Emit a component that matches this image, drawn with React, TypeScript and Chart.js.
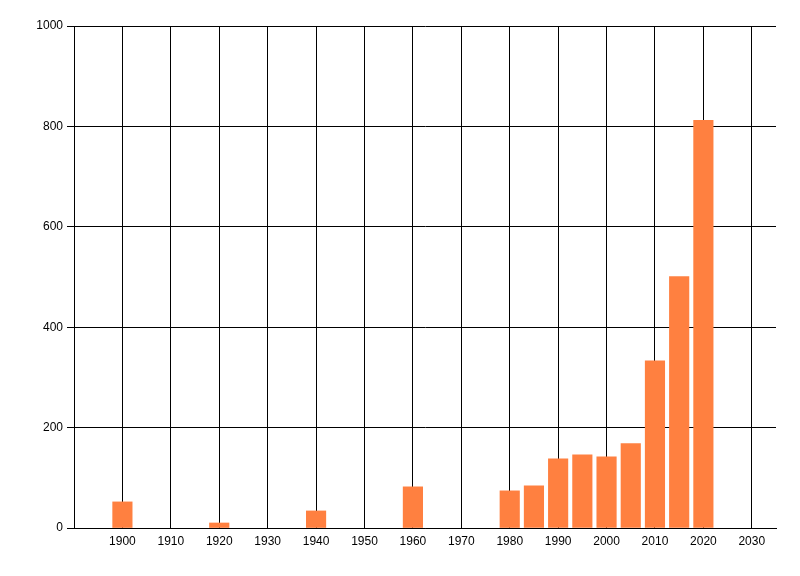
import React, { useEffect, useRef } from "react";
import { Chart, registerables } from "chart.js";

Chart.register(...registerables);

const years = [1900, 1920, 1940, 1960, 1980, 1985, 1990, 1995, 2000, 2005, 2010, 2015, 2020];
const values = [52, 10, 34, 82, 74, 84, 138, 146, 142, 168, 333, 501, 812];
const xTicks = [1900, 1910, 1920, 1930, 1940, 1950, 1960, 1970, 1980, 1990, 2000, 2010, 2020, 2030];
const yTicks = [0, 200, 400, 600, 800, 1000];

export default function App() {
  const ref = useRef<HTMLCanvasElement | null>(null);
  useEffect(() => {
    if (!ref.current) return;
    const chart = new Chart(ref.current, {
      type: "bar",
      data: {
        datasets: [
          {
            data: years.map((y, i) => ({ x: y, y: values[i] })),
            backgroundColor: "rgb(255,128,64)",
            borderWidth: 0,
            barThickness: 19.5,
          },
        ],
      },
      options: {
        animation: false,
        responsive: false,
        maintainAspectRatio: false,
        layout: { padding: { left: 0, right: 24, top: 26, bottom: 0 } },
        plugins: { legend: { display: false }, tooltip: { enabled: false } },
        scales: {
          x: {
            type: "linear",
            min: 1890,
            max: 2035,
            offset: false,
            afterBuildTicks: (s: any) => {
              s.ticks = xTicks.map((v) => ({ value: v }));
            },
            afterFit: (s: any) => {
              s.height = 48;
            },
            grid: { color: "#000", lineWidth: 1, drawTicks: false, offset: false },
            border: { color: "#000", width: 1 },
            ticks: {
              color: "#000",
              font: { family: "Liberation Sans", size: 12 },
              padding: 6,
              maxRotation: 0,
              autoSkip: false,
              callback: (v: any) => String(v),
            },
          },
          y: {
            min: 0,
            max: 1000,
            afterBuildTicks: (s: any) => {
              s.ticks = yTicks.map((v) => ({ value: v }));
            },
            afterFit: (s: any) => {
              s.width = 74;
            },
            grid: { color: "#000", lineWidth: 1, tickLength: 7 },
            border: { color: "#000", width: 1 },
            ticks: {
              color: "#000",
              font: { family: "Liberation Sans", size: 12 },
              padding: 4,
              callback: (v: any) => String(v),
            },
          },
        },
      },
    });
    return () => chart.destroy();
  }, []);
  return (
    <div style={{ position: "fixed", left: 0, top: 0, width: 800, height: 576, background: "#fff" }}>
      <canvas ref={ref} width={800} height={576} style={{ width: 800, height: 576 }} />
    </div>
  );
}
